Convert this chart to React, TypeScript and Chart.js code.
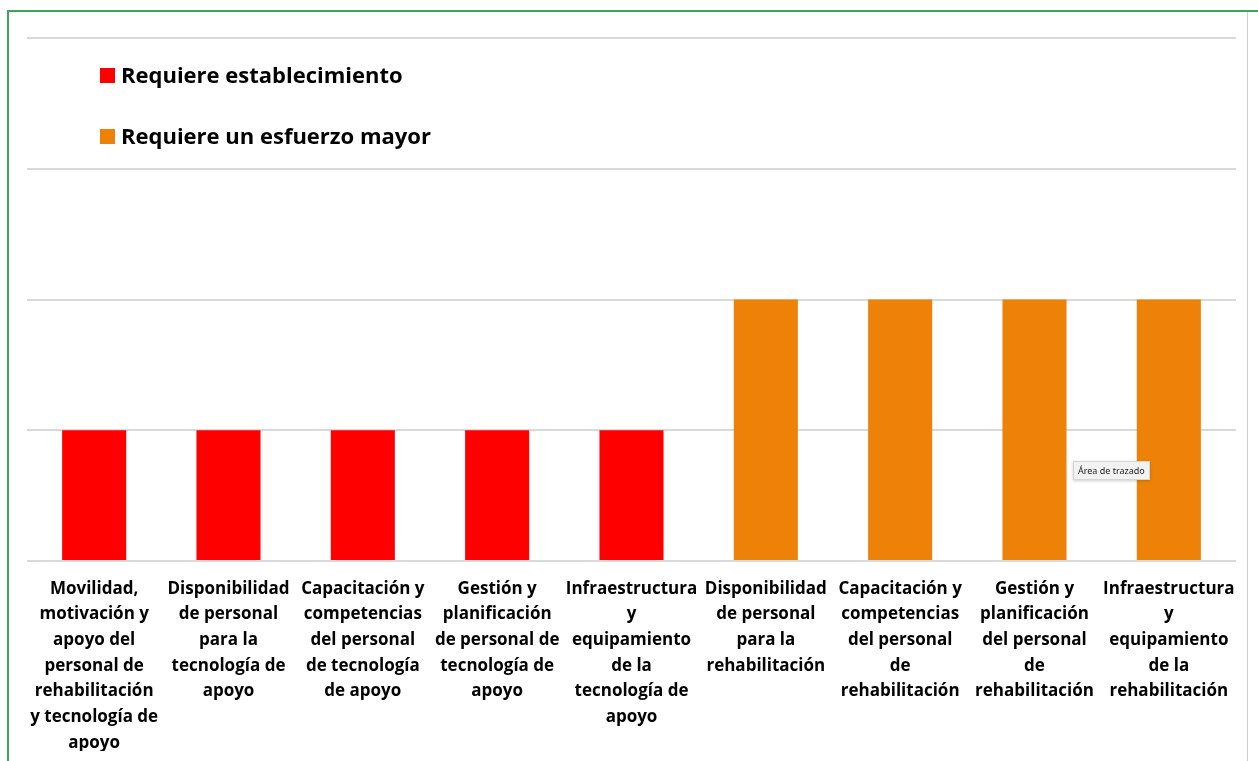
import React, { useEffect, useRef } from "react";
import { Chart, registerables } from "chart.js";

Chart.register(...registerables);

const categories: string[][] = [
  ["Movilidad,", "motivación y", "apoyo del", "personal de", "rehabilitación", "y tecnología de", "apoyo"],
  ["Disponibilidad", "de personal", "para la", "tecnología de", "apoyo"],
  ["Capacitación y", "competencias", "del personal", "de tecnología", "de apoyo"],
  ["Gestión y", "planificación", "de personal de", "tecnología de", "apoyo"],
  ["Infraestructura", "y", "equipamiento", "de la", "tecnología de", "apoyo"],
  ["Disponibilidad", "de personal", "para la", "rehabilitación"],
  ["Capacitación y", "competencias", "del personal", "de", "rehabilitación"],
  ["Gestión y", "planificación", "del personal", "de", "rehabilitación"],
  ["Infraestructura", "y", "equipamiento", "de la", "rehabilitación"],
];

const seriesNames = ["Requiere establecimiento", "Requiere un esfuerzo mayor"];
const establecimiento = [1, 1, 1, 1, 1, null, null, null, null];
const esfuerzoMayor = [null, null, null, null, null, 2, 2, 2, 2];
const seriesColors = ["#FF0000", "#EE8208"];
const yTicks = [0, 1, 2, 3, 4];

const FONT = "'Open Sans', Lato, sans-serif";

const legendPlugin = {
  id: "customLegend",
  afterDraw(chart: any) {
    const ctx = chart.ctx;
    const { left, top } = chart.chartArea;
    ctx.save();
    ctx.font = `bold 22px ${FONT}`;
    ctx.textBaseline = "middle";
    ctx.textAlign = "left";
    seriesNames.forEach((name, i) => {
      const y = top + 37.5 + i * 61;
      ctx.fillStyle = seriesColors[i];
      ctx.fillRect(left + 73, y - 7.5, 15, 15);
      ctx.fillStyle = "#000000";
      ctx.fillText(name, left + 94, y + 1);
    });
    ctx.restore();
  },
};

export default function App() {
  const canvasRef = useRef<HTMLCanvasElement | null>(null);

  useEffect(() => {
    document.body.style.margin = "0";
    const canvas = canvasRef.current;
    if (!canvas) return;
    const chart = new Chart(canvas, {
      type: "bar",
      data: {
        labels: categories,
        datasets: [
          {
            label: seriesNames[0],
            data: establecimiento,
            backgroundColor: seriesColors[0],
          },
          {
            label: seriesNames[1],
            data: esfuerzoMayor,
            backgroundColor: seriesColors[1],
          },
        ],
      },
      options: {
        animation: false,
        responsive: false,
        maintainAspectRatio: false,
        layout: { padding: { left: 19, right: 10, top: 26, bottom: 0 } },
        datasets: {
          bar: {
            grouped: false,
            categoryPercentage: 1,
            barPercentage: 0.477,
          },
        },
        plugins: {
          legend: { display: false },
          tooltip: { enabled: false },
        },
        scales: {
          x: {
            grid: { display: false, drawTicks: false },
            border: { display: false },
            ticks: {
              color: "#000000",
              font: { family: FONT, size: 17, weight: "bold", lineHeight: 1.51 },
              padding: 15,
              maxRotation: 0,
              minRotation: 0,
              autoSkip: false,
            },
            afterFit: (axis: any) => {
              axis.height = 190;
              axis.paddingLeft = 0;
              axis.paddingRight = 0;
            },
          },
          y: {
            min: yTicks[0],
            max: yTicks[yTicks.length - 1],
            afterBuildTicks: (axis: any) => {
              axis.ticks = yTicks.map((v) => ({ value: v }));
            },
            ticks: { display: false },
            grid: { color: "#D9D9D9", lineWidth: 2, drawTicks: false },
            border: { display: false },
            afterFit: (axis: any) => {
              axis.width = 0;
              axis.paddingTop = 0;
              axis.paddingBottom = 0;
            },
          },
        },
      },
      plugins: [legendPlugin],
    });
    return () => chart.destroy();
  }, []);

  return (
    <div style={{ position: "relative", width: 1258, height: 761, overflow: "hidden", background: "#fff" }}>
      <div style={{ position: "absolute", left: 7, top: 10, width: 1251, height: 2, background: "#3BA55C" }} />
      <div style={{ position: "absolute", left: 7, top: 10, width: 2, height: 751, background: "#3BA55C" }} />
      <div style={{ position: "absolute", left: 1247, top: 12, width: 1, height: 749, background: "#D0D0D0" }} />
      <canvas
        ref={canvasRef}
        width={1238}
        height={739}
        style={{ position: "absolute", left: 8, top: 12, width: 1238, height: 739 }}
      />
      <div
        style={{
          position: "absolute",
          left: 1073,
          top: 461,
          padding: "2px 4px",
          fontFamily: "'Noto Sans', sans-serif",
          fontSize: 9,
          color: "#222",
          background: "#F2F2F2",
          border: "1px solid #D6D6D6",
          boxShadow: "0 1px 3px rgba(0,0,0,0.2)",
          whiteSpace: "nowrap",
        }}
      >
        Área de trazado
      </div>
    </div>
  );
}
